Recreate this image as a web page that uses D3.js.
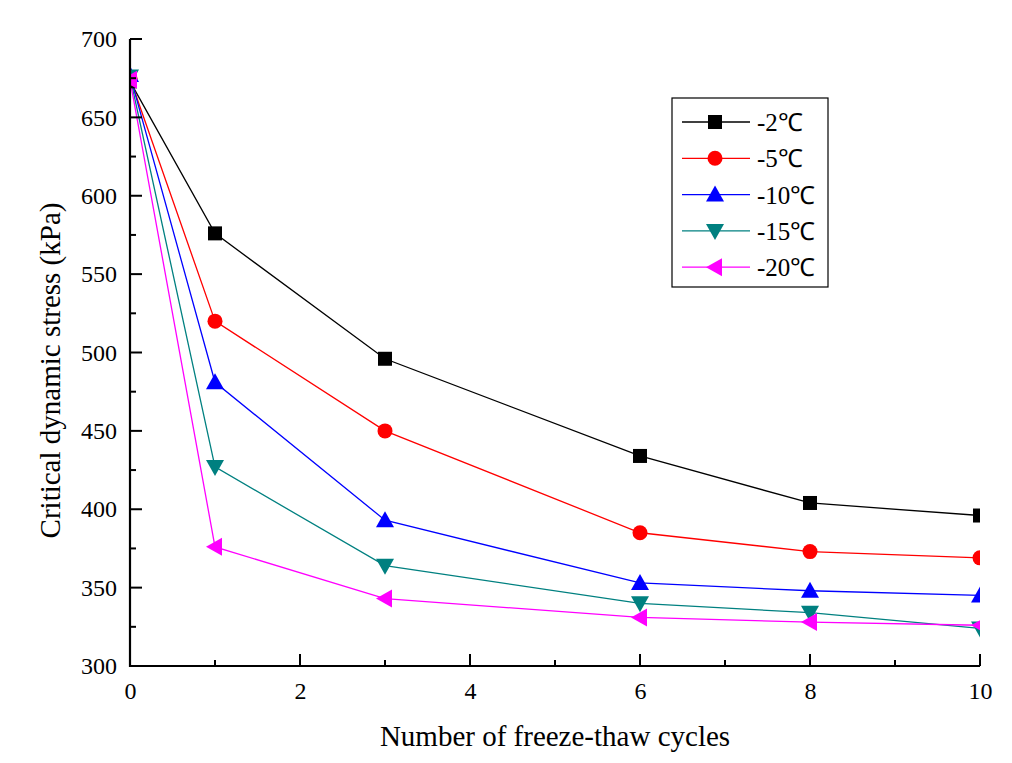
<!DOCTYPE html>
<html><head><meta charset="utf-8">
<script src="https://cdn.jsdelivr.net/npm/d3@7"></script>
<style>body{margin:0;background:#fff}svg{display:block}
svg text{font-family:"Liberation Serif","Times New Roman",serif !important}
.tk text{font-size:24px !important}</style>
</head><body><svg id="c" width="1012" height="763"></svg>
<script>
const cycles = [0, 1, 3, 6, 8, 10];
const seriesNames = ["-2\u2103", "-5\u2103", "-10\u2103", "-15\u2103", "-20\u2103"];
const s2 = [673, 576, 496, 434, 404, 396];
const s5 = [675, 520, 450, 385, 373, 369];
const s10 = [677, 481, 393, 353, 348, 345];
const s15 = [676, 427, 364, 340, 334, 324];
const s20 = [674, 376, 343, 331, 328, 326];
const xTicks = [0, 2, 4, 6, 8, 10];
const yTicks = [300, 350, 400, 450, 500, 550, 600, 650, 700];
const colors = ["#000000", "#ff0000", "#0000ff", "#008080", "#ff00ff"];
const shapes = ["square", "circle", "up", "down", "left"];
const allSeries = [s2, s5, s10, s15, s20];

const svg = d3.select("#c");
const L = 130, R = 980, T = 39, B = 666;
const x = d3.scaleLinear().domain([0, 10]).range([L, R]);
const y = d3.scaleLinear().domain([300, 700]).range([B, T]);

svg.append("defs").append("clipPath").attr("id", "clip")
  .append("rect").attr("x", L).attr("y", T - 2).attr("width", R - L).attr("height", B - T + 2);

function marker(g, shape, cx, cy, color) {
  if (shape === "square") g.append("rect").attr("x", cx - 7).attr("y", cy - 7).attr("width", 14).attr("height", 14).attr("fill", color);
  else if (shape === "circle") g.append("circle").attr("cx", cx).attr("cy", cy).attr("r", 7.5).attr("fill", color);
  else {
    let pts;
    if (shape === "up") pts = [[cx, cy - 9], [cx - 9, cy + 7], [cx + 9, cy + 7]];
    else if (shape === "down") pts = [[cx, cy + 9], [cx - 9, cy - 7], [cx + 9, cy - 7]];
    else pts = [[cx - 9, cy], [cx + 7, cy - 9], [cx + 7, cy + 9]];
    g.append("polygon").attr("points", pts.map(p => p.join(",")).join(" ")).attr("fill", color);
  }
}

const plot = svg.append("g").attr("clip-path", "url(#clip)");
const line = d3.line().x((d, i) => x(cycles[i])).y(d => y(d));
allSeries.forEach((s, k) => {
  plot.append("path").datum(s).attr("d", line).attr("fill", "none").attr("stroke", colors[k]).attr("stroke-width", 1.3);
});
allSeries.forEach((s, k) => {
  s.forEach((v, i) => marker(plot, shapes[k], x(cycles[i]), y(v), colors[k]));
});

// axes
const xAxis = d3.axisBottom(x).tickValues(xTicks).tickSize(0).tickPadding(16).tickFormat(d3.format("d"));
const gx = svg.append("g").attr("class", "tk").attr("transform", `translate(0,${B})`).call(xAxis);
gx.select(".domain").remove();
gx.selectAll("text").attr("fill", "#000");
const yAxis = d3.axisLeft(y).tickValues(yTicks).tickSize(0).tickPadding(13);
const gy = svg.append("g").attr("class", "tk").attr("transform", `translate(${L},0)`).call(yAxis);
gy.select(".domain").remove();
gy.selectAll("text").attr("fill", "#000");

// inward ticks
const tk = svg.append("g").attr("stroke", "#000").attr("stroke-width", 2);
d3.range(0, 11, 1).forEach(v => {
  const len = v % 2 === 0 ? 12 : 6;
  tk.append("line").attr("x1", x(v)).attr("x2", x(v)).attr("y1", B).attr("y2", B - len);
});
d3.range(300, 701, 25).forEach(v => {
  const len = v % 50 === 0 ? 12 : 6;
  tk.append("line").attr("x1", L).attr("x2", L + len).attr("y1", y(v)).attr("y2", y(v));
});
svg.append("path").attr("d", `M${L},${T}V${B}H${R}`).attr("fill", "none").attr("stroke", "#000").attr("stroke-width", 2.2);

// titles
svg.append("text").attr("x", 555).attr("y", 746).attr("text-anchor", "middle").style("font-size", "29px").text("Number of freeze-thaw cycles");
svg.append("text").attr("transform", `translate(60,${(T + B) / 2 + 18}) rotate(-90)`).attr("text-anchor", "middle").style("font-size", "29px").text("Critical dynamic stress (kPa)");

// legend
const lg = svg.append("g");
lg.append("rect").attr("x", 672).attr("y", 98).attr("width", 156).attr("height", 189).attr("fill", "#fff").attr("stroke", "#000").attr("stroke-width", 1.2);
seriesNames.forEach((n, k) => {
  const cy = 122 + k * 36.3;
  lg.append("line").attr("x1", 682).attr("x2", 750).attr("y1", cy).attr("y2", cy).attr("stroke", colors[k]).attr("stroke-width", 1.3);
  marker(lg, shapes[k], 715, cy, colors[k]);
  lg.append("text").attr("x", 757).attr("y", cy + 9).style("font-size", "25px").text(n);
});
</script></body></html>
